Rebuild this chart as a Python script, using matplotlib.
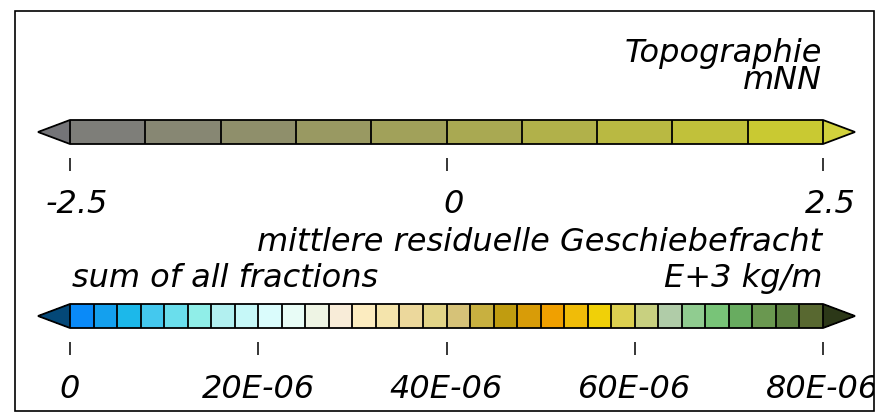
import matplotlib
matplotlib.use("Agg")
import matplotlib.pyplot as plt
from matplotlib.colors import ListedColormap, BoundaryNorm
from matplotlib.patches import Rectangle
from matplotlib.transforms import ScaledTranslation

# Topographie legend (10 classes, -2.5 .. 2.5 mNN)
topo_bounds = [-2.5, -2.0, -1.5, -1.0, -0.5, 0.0, 0.5, 1.0, 1.5, 2.0, 2.5]
topo_colors = ["#7e7e79", "#878773", "#8f8f6b", "#999962", "#a1a15a",
               "#a9a952", "#b1b14a", "#b9b942", "#c1c13a", "#c9c932"]
topo_under, topo_over = "#747478", "#d2d23c"
topo_ticks = [-2.5, 0.0, 2.5]
topo_ticklabels = ["-2.5", "0", "2.5"]

# Geschiebefracht legend (32 classes, 0 .. 80E-06)
gf_bounds = [i * 2.5e-6 for i in range(33)]
gf_colors = ["#0a8af8", "#14a0ee", "#1cb8ea", "#44c8ee", "#6adeec", "#90eee8",
             "#b2f0f0", "#c6f8f8", "#dafcfc", "#e8fcf6", "#eef4e4", "#f8ecd8",
             "#fcecc0", "#f4e4ac", "#ecd89c", "#e2d488", "#d6c278", "#c8b040",
             "#c09c10", "#d89c08", "#f0a000", "#f0bc08", "#f0d008", "#dcd050",
             "#c8d080", "#b0cca8", "#90cc90", "#78c478", "#68ac60", "#6a9850",
             "#5c8040", "#586830"]
gf_under, gf_over = "#044878", "#2c3818"
gf_ticks = [0.0, 20e-6, 40e-6, 60e-6, 80e-6]
gf_ticklabels = ["0", "20E-06", "40E-06", "60E-06", "80E-06"]

W, H = 883, 419
FONT = dict(family="DejaVu Sans", style="oblique", size=23)

fig = plt.figure(figsize=(W / 100, H / 100), dpi=100)

frame = Rectangle((15 / W, 1 - 411 / H), 859 / W, 400 / H, transform=fig.transFigure,
                  fill=False, edgecolor="black", linewidth=1.2)
fig.patches.append(frame)

ARROW = 32  # px, length of the end triangles
BAR_X0, BAR_X1 = 70, 823


def make_bar(top_px, bounds, colors, under, over, ticks, labels, pad, shift):
    cmap = ListedColormap(colors)
    cmap.set_under(under)
    cmap.set_over(over)
    norm = BoundaryNorm(bounds, cmap.N)
    cax = fig.add_axes([(BAR_X0 - ARROW) / W, 1 - (top_px + 24) / H,
                        (BAR_X1 - BAR_X0 + 2 * ARROW) / W, 24 / H])
    sm = matplotlib.cm.ScalarMappable(norm=norm, cmap=cmap)
    cb = fig.colorbar(sm, cax=cax, orientation="horizontal", extend="both",
                      extendfrac=ARROW / (BAR_X1 - BAR_X0), drawedges=True,
                      spacing="proportional")
    cb.outline.set_linewidth(1.3)
    cb.dividers.set_linewidth(1.3)
    cb.dividers.set_color("black")
    cb.set_ticks(ticks)
    cb.set_ticklabels(labels)
    cb.minorticks_off()
    cax.spines["bottom"].set_position(("outward", 10))
    cax.tick_params(axis="x", which="major", direction="out", length=9.4,
                    width=1.1, pad=pad, color="black")
    for lbl in cax.get_xticklabels():
        lbl.set_fontfamily(FONT["family"])
        lbl.set_fontstyle(FONT["style"])
        lbl.set_fontsize(FONT["size"])
        if shift:
            lbl.set_transform(lbl.get_transform() +
                              ScaledTranslation(shift / 100, 0, fig.dpi_scale_trans))
    return cb


cb_topo = make_bar(120, topo_bounds, topo_colors, topo_under, topo_over,
                   topo_ticks, topo_ticklabels, 13, 7)
cb_gf = make_bar(304, gf_bounds, gf_colors, gf_under, gf_over,
                 gf_ticks, gf_ticklabels, 14, 0)

xr = 822 / W
# baseline alignment of a two-line text uses the last line
fig.text(xr, 1 - 89 / H, "Topographie\nmNN", ha="right", va="baseline",
         multialignment="right", linespacing=0.85, **FONT)
fig.text(xr, 1 - 251 / H, "mittlere residuelle Geschiebefracht", ha="right",
         va="baseline", **FONT)
fig.text(72 / W, 1 - 287 / H, "sum of all fractions", ha="left", va="baseline", **FONT)
fig.text(xr, 1 - 287 / H, "E+3 kg/m", ha="right", va="baseline", **FONT)

# labels running past the frame are cut off at its edge
fig.canvas.draw()
for cb in (cb_topo, cb_gf):
    for tick in cb.ax.xaxis.get_major_ticks():
        tick.label1.set_clip_on(True)
        tick.label1.set_clip_path(frame)

fig.savefig("out.png", dpi=100)
